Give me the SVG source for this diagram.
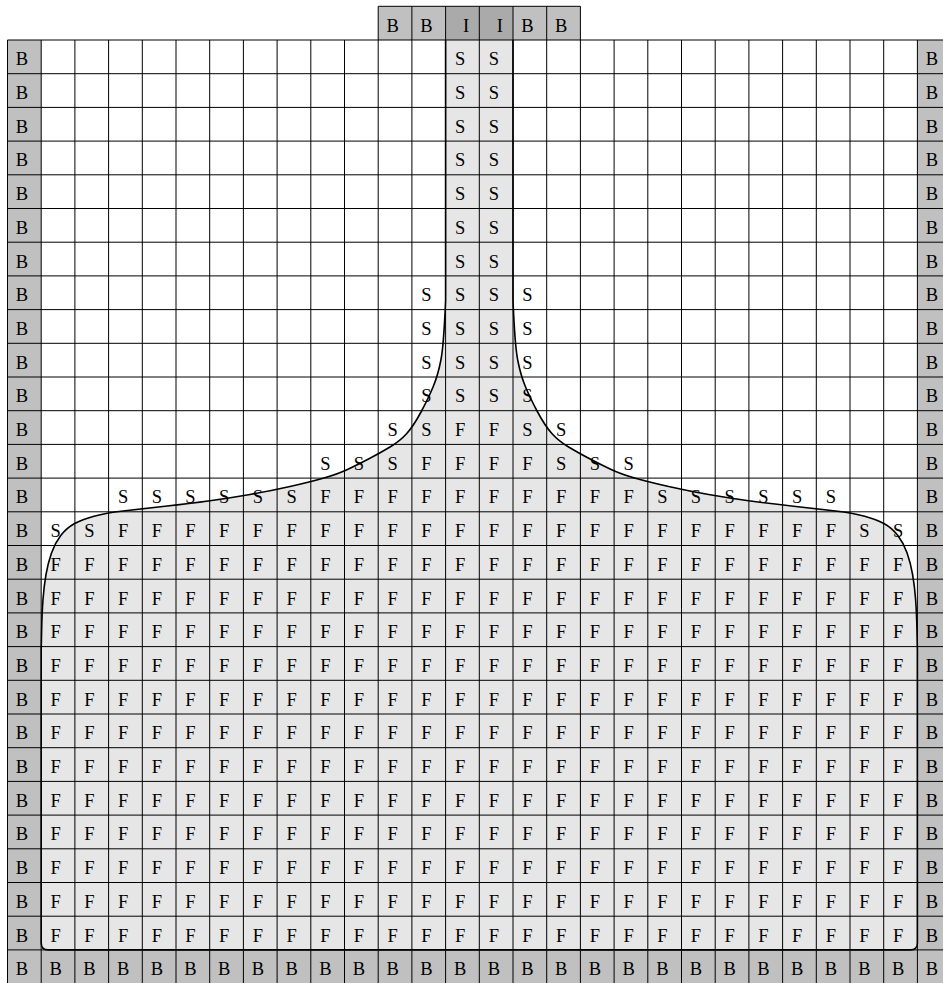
<svg xmlns="http://www.w3.org/2000/svg" xmlns:xlink="http://www.w3.org/1999/xlink" width="943" height="983" viewBox="0 0 943 983">
<style>
.b{fill:#c0c0c0}
.i{fill:#aaaaaa}
.grid{fill:none;stroke:#000;stroke-width:1}
.lbl text{font-family:"Liberation Serif","Times New Roman",serif;font-size:18.5px;fill:#000;text-anchor:middle}
</style>
<defs>
<path id="edge" d="M445.6 40 L445.6 300 Q443.8 345 440.9 360 Q438 375 433.25 386.5 Q428.5 398 421 412 Q413.5 426 406.75 433.5 Q400 441 390 447 Q380 453 369 458.75 Q358 464.5 348 469.25 Q338 474 324 478 Q310 482 290 486.5 Q270 491 250 494.5 Q230 498 210 500.75 Q190 503.5 165 506.25 Q140 509 123 511 Q106 513 94 516.25 Q82 519.5 74.25 523.75 Q66.5 528 60.75 535.5 Q55 543 51.5 553 Q48 563 46 574.5 Q44 586 43 599.5 Q42 613 41.6 631.5 L41.2 650 L41.2 943 Q41.2 949.9 48 949.9 L910.6 949.9 Q917.4 949.9 917.4 943 L917.4 650 L917 631.5 Q916.6 613 915.6 599.5 Q914.6 586 912.6 574.5 Q910.6 563 907.1 553 Q903.6 543 897.85 535.5 Q892.1 528 884.35 523.75 Q876.6 519.5 864.6 516.25 Q852.6 513 835.6 511 Q818.6 509 793.6 506.25 Q768.6 503.5 748.6 500.75 Q728.6 498 708.6 494.5 Q688.6 491 668.6 486.5 Q648.6 482 634.6 478 Q620.6 474 610.6 469.25 Q600.6 464.5 589.6 458.75 Q578.6 453 568.6 447 Q558.6 441 551.85 433.5 Q545.1 426 537.6 412 Q530.1 398 525.35 386.5 Q520.6 375 517.7 360 Q514.8 345 513 300 L513 40"/>
</defs>
<rect width="943" height="983" fill="#fff"/>
<g id="boundary-cells">
<rect class="b" x="7.5" y="40" width="33.7" height="943.6"/>
<rect class="b" x="917.4" y="40" width="33.7" height="943.6"/>
<rect class="b" x="7.5" y="949.9" width="943.6" height="33.7"/>
<rect class="b" x="378.2" y="6.3" width="67.4" height="33.7"/>
<rect class="b" x="513" y="6.3" width="67.4" height="33.7"/>
<rect class="i" x="445.6" y="6.3" width="67.4" height="33.7"/>
</g>
<g id="fluid">
<use xlink:href="#edge" fill="#e6e6e6"/>
</g>
<g id="grid">
<path class="grid" d="M7.5 40V983.6M41.2 40V983.6M74.9 40V983.6M108.6 40V983.6M142.3 40V983.6M176 40V983.6M209.7 40V983.6M243.4 40V983.6M277.1 40V983.6M310.8 40V983.6M344.5 40V983.6M378.2 40V983.6M411.9 40V983.6M445.6 40V983.6M479.3 40V983.6M513 40V983.6M546.7 40V983.6M580.4 40V983.6M614.1 40V983.6M647.8 40V983.6M681.5 40V983.6M715.2 40V983.6M748.9 40V983.6M782.6 40V983.6M816.3 40V983.6M850 40V983.6M883.7 40V983.6M917.4 40V983.6"/>
<path class="grid" d="M378.2 6.3V40M411.9 6.3V40M445.6 6.3V40M479.3 6.3V40M513 6.3V40M546.7 6.3V40M580.4 6.3V40M378.2 6.3H580.4"/>
<path class="grid" d="M7.5 40H943M7.5 73.7H943M7.5 107.4H943M7.5 141.1H943M7.5 174.8H943M7.5 208.5H943M7.5 242.2H943M7.5 275.9H943M7.5 309.6H943M7.5 343.3H943M7.5 377H943M7.5 410.7H943M7.5 444.4H943M7.5 478.1H943M7.5 511.8H943M7.5 545.5H943M7.5 579.2H943M7.5 612.9H943M7.5 646.6H943M7.5 680.3H943M7.5 714H943M7.5 747.7H943M7.5 781.4H943M7.5 815.1H943M7.5 848.8H943M7.5 882.5H943M7.5 916.2H943M7.5 949.9H943"/>
</g>
<g id="interface">
<use xlink:href="#edge" fill="none" stroke="#000" stroke-width="1.6"/>
</g>
<g id="labels" class="lbl">
<g transform="translate(0,31.6)"><text x="392.7">B</text><text x="426.4">B</text><text x="466.1">I</text><text x="499.8">I</text><text x="527.5">B</text><text x="561.2">B</text></g>
<g transform="translate(0,65.3)"><text x="22">B</text><text x="460.1">S</text><text x="493.8">S</text><text x="931.9">B</text></g>
<g transform="translate(0,99)"><text x="22">B</text><text x="460.1">S</text><text x="493.8">S</text><text x="931.9">B</text></g>
<g transform="translate(0,132.7)"><text x="22">B</text><text x="460.1">S</text><text x="493.8">S</text><text x="931.9">B</text></g>
<g transform="translate(0,166.4)"><text x="22">B</text><text x="460.1">S</text><text x="493.8">S</text><text x="931.9">B</text></g>
<g transform="translate(0,200.1)"><text x="22">B</text><text x="460.1">S</text><text x="493.8">S</text><text x="931.9">B</text></g>
<g transform="translate(0,233.8)"><text x="22">B</text><text x="460.1">S</text><text x="493.8">S</text><text x="931.9">B</text></g>
<g transform="translate(0,267.5)"><text x="22">B</text><text x="460.1">S</text><text x="493.8">S</text><text x="931.9">B</text></g>
<g transform="translate(0,301.2)"><text x="22">B</text><text x="426.4">S</text><text x="460.1">S</text><text x="493.8">S</text><text x="527.5">S</text><text x="931.9">B</text></g>
<g transform="translate(0,334.9)"><text x="22">B</text><text x="426.4">S</text><text x="460.1">S</text><text x="493.8">S</text><text x="527.5">S</text><text x="931.9">B</text></g>
<g transform="translate(0,368.6)"><text x="22">B</text><text x="426.4">S</text><text x="460.1">S</text><text x="493.8">S</text><text x="527.5">S</text><text x="931.9">B</text></g>
<g transform="translate(0,402.3)"><text x="22">B</text><text x="426.4">S</text><text x="460.1">S</text><text x="493.8">S</text><text x="527.5">S</text><text x="931.9">B</text></g>
<g transform="translate(0,436)"><text x="22">B</text><text x="392.7">S</text><text x="426.4">S</text><text x="460.1">F</text><text x="493.8">F</text><text x="527.5">S</text><text x="561.2">S</text><text x="931.9">B</text></g>
<g transform="translate(0,469.7)"><text x="22">B</text><text x="325.3">S</text><text x="359">S</text><text x="392.7">S</text><text x="426.4">F</text><text x="460.1">F</text><text x="493.8">F</text><text x="527.5">F</text><text x="561.2">S</text><text x="594.9">S</text><text x="628.6">S</text><text x="931.9">B</text></g>
<g transform="translate(0,503.4)"><text x="22">B</text><text x="123.1">S</text><text x="156.8">S</text><text x="190.5">S</text><text x="224.2">S</text><text x="257.9">S</text><text x="291.6">S</text><text x="325.3">F</text><text x="359">F</text><text x="392.7">F</text><text x="426.4">F</text><text x="460.1">F</text><text x="493.8">F</text><text x="527.5">F</text><text x="561.2">F</text><text x="594.9">F</text><text x="628.6">F</text><text x="662.3">S</text><text x="696">S</text><text x="729.7">S</text><text x="763.4">S</text><text x="797.1">S</text><text x="830.8">S</text><text x="931.9">B</text></g>
<g transform="translate(0,537.1)"><text x="22">B</text><text x="55.7">S</text><text x="89.4">S</text><text x="123.1">F</text><text x="156.8">F</text><text x="190.5">F</text><text x="224.2">F</text><text x="257.9">F</text><text x="291.6">F</text><text x="325.3">F</text><text x="359">F</text><text x="392.7">F</text><text x="426.4">F</text><text x="460.1">F</text><text x="493.8">F</text><text x="527.5">F</text><text x="561.2">F</text><text x="594.9">F</text><text x="628.6">F</text><text x="662.3">F</text><text x="696">F</text><text x="729.7">F</text><text x="763.4">F</text><text x="797.1">F</text><text x="830.8">F</text><text x="864.5">S</text><text x="898.2">S</text><text x="931.9">B</text></g>
<g transform="translate(0,570.8)"><text x="22">B</text><text x="55.7">F</text><text x="89.4">F</text><text x="123.1">F</text><text x="156.8">F</text><text x="190.5">F</text><text x="224.2">F</text><text x="257.9">F</text><text x="291.6">F</text><text x="325.3">F</text><text x="359">F</text><text x="392.7">F</text><text x="426.4">F</text><text x="460.1">F</text><text x="493.8">F</text><text x="527.5">F</text><text x="561.2">F</text><text x="594.9">F</text><text x="628.6">F</text><text x="662.3">F</text><text x="696">F</text><text x="729.7">F</text><text x="763.4">F</text><text x="797.1">F</text><text x="830.8">F</text><text x="864.5">F</text><text x="898.2">F</text><text x="931.9">B</text></g>
<g transform="translate(0,604.5)"><text x="22">B</text><text x="55.7">F</text><text x="89.4">F</text><text x="123.1">F</text><text x="156.8">F</text><text x="190.5">F</text><text x="224.2">F</text><text x="257.9">F</text><text x="291.6">F</text><text x="325.3">F</text><text x="359">F</text><text x="392.7">F</text><text x="426.4">F</text><text x="460.1">F</text><text x="493.8">F</text><text x="527.5">F</text><text x="561.2">F</text><text x="594.9">F</text><text x="628.6">F</text><text x="662.3">F</text><text x="696">F</text><text x="729.7">F</text><text x="763.4">F</text><text x="797.1">F</text><text x="830.8">F</text><text x="864.5">F</text><text x="898.2">F</text><text x="931.9">B</text></g>
<g transform="translate(0,638.2)"><text x="22">B</text><text x="55.7">F</text><text x="89.4">F</text><text x="123.1">F</text><text x="156.8">F</text><text x="190.5">F</text><text x="224.2">F</text><text x="257.9">F</text><text x="291.6">F</text><text x="325.3">F</text><text x="359">F</text><text x="392.7">F</text><text x="426.4">F</text><text x="460.1">F</text><text x="493.8">F</text><text x="527.5">F</text><text x="561.2">F</text><text x="594.9">F</text><text x="628.6">F</text><text x="662.3">F</text><text x="696">F</text><text x="729.7">F</text><text x="763.4">F</text><text x="797.1">F</text><text x="830.8">F</text><text x="864.5">F</text><text x="898.2">F</text><text x="931.9">B</text></g>
<g transform="translate(0,671.9)"><text x="22">B</text><text x="55.7">F</text><text x="89.4">F</text><text x="123.1">F</text><text x="156.8">F</text><text x="190.5">F</text><text x="224.2">F</text><text x="257.9">F</text><text x="291.6">F</text><text x="325.3">F</text><text x="359">F</text><text x="392.7">F</text><text x="426.4">F</text><text x="460.1">F</text><text x="493.8">F</text><text x="527.5">F</text><text x="561.2">F</text><text x="594.9">F</text><text x="628.6">F</text><text x="662.3">F</text><text x="696">F</text><text x="729.7">F</text><text x="763.4">F</text><text x="797.1">F</text><text x="830.8">F</text><text x="864.5">F</text><text x="898.2">F</text><text x="931.9">B</text></g>
<g transform="translate(0,705.6)"><text x="22">B</text><text x="55.7">F</text><text x="89.4">F</text><text x="123.1">F</text><text x="156.8">F</text><text x="190.5">F</text><text x="224.2">F</text><text x="257.9">F</text><text x="291.6">F</text><text x="325.3">F</text><text x="359">F</text><text x="392.7">F</text><text x="426.4">F</text><text x="460.1">F</text><text x="493.8">F</text><text x="527.5">F</text><text x="561.2">F</text><text x="594.9">F</text><text x="628.6">F</text><text x="662.3">F</text><text x="696">F</text><text x="729.7">F</text><text x="763.4">F</text><text x="797.1">F</text><text x="830.8">F</text><text x="864.5">F</text><text x="898.2">F</text><text x="931.9">B</text></g>
<g transform="translate(0,739.3)"><text x="22">B</text><text x="55.7">F</text><text x="89.4">F</text><text x="123.1">F</text><text x="156.8">F</text><text x="190.5">F</text><text x="224.2">F</text><text x="257.9">F</text><text x="291.6">F</text><text x="325.3">F</text><text x="359">F</text><text x="392.7">F</text><text x="426.4">F</text><text x="460.1">F</text><text x="493.8">F</text><text x="527.5">F</text><text x="561.2">F</text><text x="594.9">F</text><text x="628.6">F</text><text x="662.3">F</text><text x="696">F</text><text x="729.7">F</text><text x="763.4">F</text><text x="797.1">F</text><text x="830.8">F</text><text x="864.5">F</text><text x="898.2">F</text><text x="931.9">B</text></g>
<g transform="translate(0,773)"><text x="22">B</text><text x="55.7">F</text><text x="89.4">F</text><text x="123.1">F</text><text x="156.8">F</text><text x="190.5">F</text><text x="224.2">F</text><text x="257.9">F</text><text x="291.6">F</text><text x="325.3">F</text><text x="359">F</text><text x="392.7">F</text><text x="426.4">F</text><text x="460.1">F</text><text x="493.8">F</text><text x="527.5">F</text><text x="561.2">F</text><text x="594.9">F</text><text x="628.6">F</text><text x="662.3">F</text><text x="696">F</text><text x="729.7">F</text><text x="763.4">F</text><text x="797.1">F</text><text x="830.8">F</text><text x="864.5">F</text><text x="898.2">F</text><text x="931.9">B</text></g>
<g transform="translate(0,806.7)"><text x="22">B</text><text x="55.7">F</text><text x="89.4">F</text><text x="123.1">F</text><text x="156.8">F</text><text x="190.5">F</text><text x="224.2">F</text><text x="257.9">F</text><text x="291.6">F</text><text x="325.3">F</text><text x="359">F</text><text x="392.7">F</text><text x="426.4">F</text><text x="460.1">F</text><text x="493.8">F</text><text x="527.5">F</text><text x="561.2">F</text><text x="594.9">F</text><text x="628.6">F</text><text x="662.3">F</text><text x="696">F</text><text x="729.7">F</text><text x="763.4">F</text><text x="797.1">F</text><text x="830.8">F</text><text x="864.5">F</text><text x="898.2">F</text><text x="931.9">B</text></g>
<g transform="translate(0,840.4)"><text x="22">B</text><text x="55.7">F</text><text x="89.4">F</text><text x="123.1">F</text><text x="156.8">F</text><text x="190.5">F</text><text x="224.2">F</text><text x="257.9">F</text><text x="291.6">F</text><text x="325.3">F</text><text x="359">F</text><text x="392.7">F</text><text x="426.4">F</text><text x="460.1">F</text><text x="493.8">F</text><text x="527.5">F</text><text x="561.2">F</text><text x="594.9">F</text><text x="628.6">F</text><text x="662.3">F</text><text x="696">F</text><text x="729.7">F</text><text x="763.4">F</text><text x="797.1">F</text><text x="830.8">F</text><text x="864.5">F</text><text x="898.2">F</text><text x="931.9">B</text></g>
<g transform="translate(0,874.1)"><text x="22">B</text><text x="55.7">F</text><text x="89.4">F</text><text x="123.1">F</text><text x="156.8">F</text><text x="190.5">F</text><text x="224.2">F</text><text x="257.9">F</text><text x="291.6">F</text><text x="325.3">F</text><text x="359">F</text><text x="392.7">F</text><text x="426.4">F</text><text x="460.1">F</text><text x="493.8">F</text><text x="527.5">F</text><text x="561.2">F</text><text x="594.9">F</text><text x="628.6">F</text><text x="662.3">F</text><text x="696">F</text><text x="729.7">F</text><text x="763.4">F</text><text x="797.1">F</text><text x="830.8">F</text><text x="864.5">F</text><text x="898.2">F</text><text x="931.9">B</text></g>
<g transform="translate(0,907.8)"><text x="22">B</text><text x="55.7">F</text><text x="89.4">F</text><text x="123.1">F</text><text x="156.8">F</text><text x="190.5">F</text><text x="224.2">F</text><text x="257.9">F</text><text x="291.6">F</text><text x="325.3">F</text><text x="359">F</text><text x="392.7">F</text><text x="426.4">F</text><text x="460.1">F</text><text x="493.8">F</text><text x="527.5">F</text><text x="561.2">F</text><text x="594.9">F</text><text x="628.6">F</text><text x="662.3">F</text><text x="696">F</text><text x="729.7">F</text><text x="763.4">F</text><text x="797.1">F</text><text x="830.8">F</text><text x="864.5">F</text><text x="898.2">F</text><text x="931.9">B</text></g>
<g transform="translate(0,941.5)"><text x="22">B</text><text x="55.7">F</text><text x="89.4">F</text><text x="123.1">F</text><text x="156.8">F</text><text x="190.5">F</text><text x="224.2">F</text><text x="257.9">F</text><text x="291.6">F</text><text x="325.3">F</text><text x="359">F</text><text x="392.7">F</text><text x="426.4">F</text><text x="460.1">F</text><text x="493.8">F</text><text x="527.5">F</text><text x="561.2">F</text><text x="594.9">F</text><text x="628.6">F</text><text x="662.3">F</text><text x="696">F</text><text x="729.7">F</text><text x="763.4">F</text><text x="797.1">F</text><text x="830.8">F</text><text x="864.5">F</text><text x="898.2">F</text><text x="931.9">B</text></g>
<g transform="translate(0,975.2)"><text x="22">B</text><text x="55.7">B</text><text x="89.4">B</text><text x="123.1">B</text><text x="156.8">B</text><text x="190.5">B</text><text x="224.2">B</text><text x="257.9">B</text><text x="291.6">B</text><text x="325.3">B</text><text x="359">B</text><text x="392.7">B</text><text x="426.4">B</text><text x="460.1">B</text><text x="493.8">B</text><text x="527.5">B</text><text x="561.2">B</text><text x="594.9">B</text><text x="628.6">B</text><text x="662.3">B</text><text x="696">B</text><text x="729.7">B</text><text x="763.4">B</text><text x="797.1">B</text><text x="830.8">B</text><text x="864.5">B</text><text x="898.2">B</text><text x="931.9">B</text></g>
</g>
</svg>
